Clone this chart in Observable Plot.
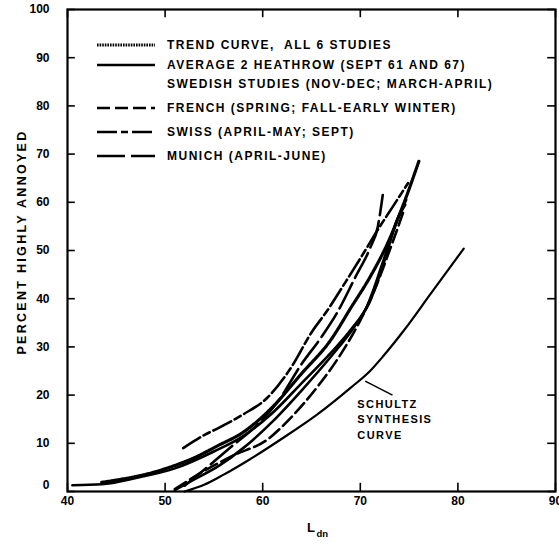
<!DOCTYPE html>
<html>
<head>
<meta charset="utf-8">
<script src="https://cdn.jsdelivr.net/npm/d3@7"></script>
<script src="https://cdn.jsdelivr.net/npm/@observablehq/plot@0.6"></script>
<style>
html,body{margin:0;padding:0;background:#fff;overflow:hidden}
#chart svg{display:block}
</style>
</head>
<body>
<div id="chart"></div>
<script>
// tick labels
const xTicks = [40, 50, 60, 70, 80, 90];
const yTicks = [10, 20, 30, 40, 50, 60, 70, 80, 90, 100];
const yTickZero = [0];

// series: L_dn (dB) and percent highly annoyed
const trendL = [43.5, 46, 48.5, 51, 53, 55.3, 58, 61, 64, 67, 69, 71, 72.8, 74.5, 76];
const trendP = [1.9, 2.7, 3.8, 5.4, 7, 9.4, 12.3, 17.5, 24.5, 31.5, 38, 44.5, 51.5, 60, 68.5];
const heathrowL = [40.5, 43.5, 47, 51, 55, 58, 61, 64, 67, 69, 70.7, 72.3, 73.8, 74.7];
const heathrowP = [1.3, 1.5, 2.8, 4.8, 8.3, 11.5, 16.3, 22.5, 28.8, 33.5, 38.5, 47.5, 56.5, 60.5];
const swedishL = [51, 53, 55.5, 58, 61, 64, 67, 69.5, 71, 72.5, 73.8, 74.6];
const swedishP = [0.3, 2.5, 5.3, 9, 14.5, 21, 28, 34.5, 39.5, 48, 56.5, 59.5];
const frenchL = [51, 53.6, 57, 60.5, 62.5, 65.6, 68, 70, 71.5, 73, 74.5];
const frenchP = [0.5, 3.8, 7.5, 10.8, 14.5, 21.7, 28.5, 35.5, 42, 50, 58.5];
const swissL = [51.85, 54, 55.5, 58, 60.5, 63, 65, 66.6, 68.5, 70.5, 71.7, 73.3, 74.9];
const swissP = [9, 11.7, 13.2, 16, 19.5, 26, 33, 37.5, 43.5, 50, 54, 59, 64];
const munichL = [52, 54, 56.9, 59, 61.5, 64, 66, 67.6, 69.5, 71, 71.8, 72.3];
const munichP = [1.2, 4.5, 9.5, 13, 18.5, 26.5, 32, 37, 44.5, 50.5, 55, 61.5];
const schultzL = [52, 54, 56, 58.7, 62, 65.6, 69, 71, 72.4, 74.5, 77.2, 80.6];
const schultzP = [0, 1.4, 3.5, 6.7, 11, 16, 21.5, 25, 28.2, 33.5, 41, 50.4];

// legend texts
const legendLabels = [
  "TREND CURVE,  ALL 6 STUDIES",
  "AVERAGE 2 HEATHROW (SEPT 61 AND 67)",
  "SWEDISH STUDIES (NOV-DEC; MARCH-APRIL)",
  "FRENCH (SPRING; FALL-EARLY WINTER)",
  "SWISS (APRIL-MAY; SEPT)",
  "MUNICH (APRIL-JUNE)"
];
const schultzLabel = "SCHULTZ\nSYNTHESIS\nCURVE";

// ---- build tables ----
function rows(name, Ls, Ps) { return Ls.map((L, i) => ({name, L, P: Ps[i]})); }
const series = [
  {name: "trend", data: rows("trend", trendL, trendP)},
  {name: "heathrow", data: rows("heathrow", heathrowL, heathrowP)},
  {name: "swedish", data: rows("swedish", swedishL, swedishP)},
  {name: "french", data: rows("french", frenchL, frenchP)},
  {name: "swiss", data: rows("swiss", swissL, swissP)},
  {name: "munich", data: rows("munich", munichL, munichP)},
  {name: "schultz", data: rows("schultz", schultzL, schultzP)}
];

// ---- styles ----
const style = {
  trend:    {dash: "1.6,1.0", w: 3.2},
  heathrow: {dash: null, w: 2.6},
  swedish:  {dash: null, w: 2.6},
  french:   {dash: "13,5", w: 2.6},
  swiss:    {dash: "20,4,7,4", w: 2.6},
  munich:   {dash: "28,6", w: 2.6},
  schultz:  {dash: null, w: 2.2}
};
const FONT = "'Liberation Sans', Arial, Helvetica, sans-serif";

const lineMarks = series.map(s => Plot.line(s.data, {
  x: "L", y: "P", stroke: "black",
  strokeWidth: style[s.name].w,
  strokeDasharray: style[s.name].dash || undefined,
  curve: "monotone-x"
}));

const chart = Plot.plot({
  width: 559,
  height: 549,
  marginLeft: 67,
  marginRight: 4,
  marginTop: 9,
  marginBottom: 58,
  style: {fontFamily: FONT, fontSize: "12px", fontWeight: "bold", background: "white", color: "black"},
  x: {domain: [40, 90]},
  y: {domain: [0, 100]},
  marks: [
    // inward ticks on all four sides
    Plot.ruleX(xTicks, {x: d => d, y1: 0, y2: 1.7, stroke: "black", strokeWidth: 1.6}),
    Plot.ruleX(xTicks, {x: d => d, y1: 100, y2: 98.3, stroke: "black", strokeWidth: 1.6}),
    Plot.ruleY([...yTickZero, ...yTicks], {y: d => d, x1: 40, x2: 40.8, stroke: "black", strokeWidth: 1.6}),
    Plot.ruleY([...yTickZero, ...yTicks], {y: d => d, x1: 90, x2: 89.2, stroke: "black", strokeWidth: 1.6}),
    Plot.axisX(xTicks, {anchor: "bottom", tickSize: 0, tickPadding: 5, label: null, fontWeight: "bold", fontSize: 12}),
    Plot.axisY(yTicks, {anchor: "left", tickSize: 0, tickPadding: 18, label: null, fontWeight: "bold", fontSize: 12}),
    Plot.axisY(yTickZero, {anchor: "left", tickSize: 0, tickPadding: 18, dy: -6, label: null, fontWeight: "bold", fontSize: 12}),
    ...lineMarks,
    Plot.link([{x1: 70.5, y1: 22.9, x2: 73.3, y2: 20.0}], {x1: "x1", y1: "y1", x2: "x2", y2: "y2", stroke: "black", strokeWidth: 1.6}),
    Plot.text([schultzLabel], {x: 69.7, y: 19.6, text: d => d, textAnchor: "start", lineAnchor: "top", lineHeight: 1.4, fontSize: 11, fontWeight: "bold", fill: "black"}),
    Plot.frame({stroke: "black", strokeWidth: 2.2})
  ]
});

document.getElementById("chart").appendChild(chart);

const svg = d3.select(chart);
svg.selectAll('g[aria-label="text"] text').attr("letter-spacing", 1.4);

// y-axis title
svg.append("text")
  .attr("transform", "translate(22,242) rotate(-90)")
  .attr("text-anchor", "middle")
  .attr("dominant-baseline", "central")
  .attr("font-family", FONT).attr("font-weight", "bold").attr("font-size", 12.5)
  .attr("letter-spacing", 2.3)
  .attr("fill", "black")
  .text("PERCENT HIGHLY ANNOYED");

// x-axis title L with subscript dn
svg.append("text").attr("x", 307).attr("y", 532).attr("text-anchor", "start")
  .attr("font-family", FONT).attr("font-weight", "bold").attr("font-size", 13)
  .attr("fill", "black").text("L");
svg.append("text").attr("x", 316.5).attr("y", 537).attr("text-anchor", "start")
  .attr("font-family", FONT).attr("font-weight", "bold").attr("font-size", 9.5)
  .attr("fill", "black").text("dn");

// legend
const legendKeys = ["trend", "heathrow", null, "french", "swiss", "munich"];
const legendRowY = [45, 65, 84, 108, 132, 156];
const lg = svg.append("g");
legendLabels.forEach((label, i) => {
  const y = legendRowY[i];
  const key = legendKeys[i];
  if (key) {
    lg.append("line").attr("x1", 97).attr("x2", 155).attr("y1", y).attr("y2", y)
      .attr("stroke", "black").attr("stroke-width", style[key].w)
      .attr("stroke-dasharray", style[key].dash || null);
  }
  lg.append("text").attr("x", 167).attr("y", y)
    .attr("text-anchor", "start")
    .attr("dominant-baseline", "central")
    .attr("font-family", FONT).attr("font-weight", "bold").attr("font-size", 12)
    .attr("letter-spacing", 1.5)
    .attr("fill", "black")
    .style("white-space", "pre")
    .text(label);
});
</script>
</body>
</html>
